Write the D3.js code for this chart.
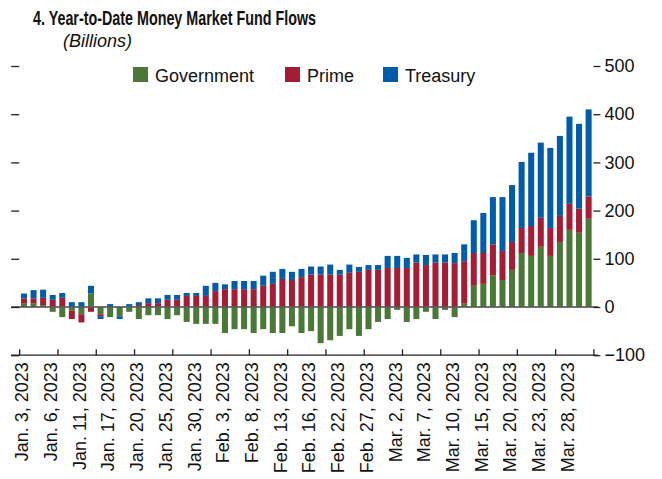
<!DOCTYPE html>
<html>
<head>
<meta charset="utf-8">
<script src="https://cdn.jsdelivr.net/npm/d3@7"></script>
<style>
  body { margin: 0; background: #fff; }
  svg { display: block; font-family: "Liberation Sans", Arial, sans-serif; }
</style>
</head>
<body>
<svg width="662" height="479"></svg>
<script>
// business days shown in the chart (one day missing around Feb. 1 in the source)
const dates = [
  '2023-01-03', '2023-01-04', '2023-01-05', '2023-01-06', '2023-01-09', '2023-01-10',
  '2023-01-11', '2023-01-12', '2023-01-13', '2023-01-17', '2023-01-18', '2023-01-19',
  '2023-01-20', '2023-01-23', '2023-01-24', '2023-01-25', '2023-01-26', '2023-01-27',
  '2023-01-30', '2023-01-31', '2023-02-02', '2023-02-03', '2023-02-06', '2023-02-07',
  '2023-02-08', '2023-02-09', '2023-02-10', '2023-02-13', '2023-02-14', '2023-02-15',
  '2023-02-16', '2023-02-17', '2023-02-21', '2023-02-22', '2023-02-23', '2023-02-24',
  '2023-02-27', '2023-02-28', '2023-03-01', '2023-03-02', '2023-03-03', '2023-03-06',
  '2023-03-07', '2023-03-08', '2023-03-09', '2023-03-10', '2023-03-13', '2023-03-14',
  '2023-03-15', '2023-03-16', '2023-03-17', '2023-03-20', '2023-03-21', '2023-03-22',
  '2023-03-23', '2023-03-24', '2023-03-27', '2023-03-28', '2023-03-29', '2023-03-30',
];

// billions of dollars, year to date
const government = [
  8, 8, 4, -10, -21, -8, -15, 28, -15, -21, -19, -10, -25, -17, -17, -25, -17, -31, -35, -35,
  -35, -54, -46, -46, -54, -46, -54, -54, -40, -54, -50, -75, -69, -60, -46, -60, -46, -31, -25, -6,
  -31, -25, -10, -25, -6, -21, 8, 44, 48, 66, 56, 77, 112, 106, 125, 106, 135, 160, 154, 183,
];
const prime = [
  10, 10, 15, 15, 19, -17, -17, -10, -4, 0, 0, 0, 4, 8, 8, 15, 15, 23, 23, 23,
  33, 37, 37, 37, 37, 44, 48, 58, 56, 62, 67, 67, 67, 67, 71, 73, 77, 77, 81, 81,
  81, 92, 87, 92, 92, 91, 87, 68, 64, 64, 60, 58, 52, 62, 60, 58, 54, 54, 50, 46,
];
const treasury = [
  10, 17, 17, 10, 10, 10, 10, 16, -6, 6, -6, 6, 6, 10, 10, 10, 10, 6, 6, 21,
  17, 10, 17, 17, 17, 21, 25, 21, 17, 17, 17, 17, 21, 10, 17, 10, 10, 10, 25, 25,
  21, 17, 21, 17, 17, 21, 35, 68, 83, 98, 112, 118, 137, 152, 156, 166, 166, 181, 176, 181,
];

const series = ['Government', 'Prime', 'Treasury'];
const colors = ['#4a7937', '#a51d34', '#005ca9'];
const yTicks = [-100, 0, 100, 200, 300, 400, 500];

const table = dates.map((d, i) => ({
  date: d, Government: government[i], Prime: prime[i], Treasury: treasury[i],
}));

const svg = d3.select('svg');
const monthNames = ['Jan.', 'Feb.', 'Mar.', 'Apr.', 'May', 'June', 'July', 'Aug.', 'Sep.', 'Oct.', 'Nov.', 'Dec.'];
function fmtDate(s) {
  const [yy, mm, dd] = s.split('-').map(Number);
  return `${monthNames[mm - 1]} ${dd}, ${yy}`;
}

const left = 19.2;
const right = 593.4;
const x = d3.scaleBand().domain(dates).range([left, right]).paddingInner(0.37).paddingOuter(0.185);
const xi = d3.scaleLinear().domain([0, dates.length]).range([left, right]);
const y = d3.scaleLinear().domain([-100, 500]).range([355.2, 66]);

const stacked = d3.stack().keys(series).offset(d3.stackOffsetDiverging)(table);

// bars
svg.append('g')
  .selectAll('g')
  .data(stacked)
  .join('g')
  .attr('fill', (d, i) => colors[i])
  .selectAll('rect')
  .data(d => d)
  .join('rect')
  .attr('x', d => x(d.data.date))
  .attr('width', x.bandwidth())
  .attr('y', d => y(Math.max(d[0], d[1])))
  .attr('height', d => Math.abs(y(d[0]) - y(d[1])));

// zero line
svg.append('line')
  .attr('x1', 11).attr('x2', 598)
  .attr('y1', y(0)).attr('y2', y(0))
  .attr('stroke', '#5a5a5a').attr('stroke-opacity', 0.85).attr('stroke-width', 2);

// left ticks (no labels)
svg.append('g')
  .attr('transform', `translate(${left},0)`)
  .call(d3.axisLeft(y).tickValues(yTicks).tickSize(8).tickFormat(''))
  .call(g => g.select('.domain').remove())
  .call(g => g.selectAll('line').attr('stroke', '#222').attr('stroke-width', 1.3));

// right axis
svg.append('g')
  .attr('transform', `translate(${right},0)`)
  .call(d3.axisRight(y).tickValues(yTicks).tickSize(7).tickPadding(4))
  .call(g => g.select('.domain').remove())
  .call(g => g.selectAll('line').attr('stroke', '#222').attr('stroke-width', 1.3))
  .call(g => g.selectAll('text').attr('font-size', 18).attr('fill', '#111')
    .attr('font-family', '"Liberation Sans", Arial, sans-serif'));

// x axis line and ticks every 4 days
svg.append('line')
  .attr('x1', 11).attr('x2', 598)
  .attr('y1', y(-100)).attr('y2', y(-100))
  .attr('stroke', '#222').attr('stroke-width', 1.3);

svg.append('g')
  .attr('transform', `translate(0,${y(-100)})`)
  .call(d3.axisBottom(xi).tickValues(d3.range(0, dates.length + 1, 4)).tickSize(-6).tickFormat(''))
  .call(g => g.select('.domain').remove())
  .call(g => g.selectAll('line').attr('stroke', '#222').attr('stroke-width', 1.3));

// date labels every 3 days
svg.append('g')
  .attr('transform', `translate(0,${y(-100)})`)
  .call(d3.axisBottom(x).tickValues(dates.filter((d, i) => i % 3 === 0)).tickSize(0).tickFormat(fmtDate))
  .call(g => g.select('.domain').remove())
  .call(g => g.selectAll('text')
    .attr('font-size', 18)
    .attr('fill', '#111')
    .attr('font-family', '"Liberation Sans", Arial, sans-serif')
    .attr('text-anchor', 'end')
    .attr('transform', 'rotate(-90)')
    .attr('x', -7)
    .attr('y', -2)
    .attr('dy', '0.35em'));

// title (condensed bold in the original)
svg.append('text')
  .attr('x', 33).attr('y', 25)
  .attr('font-family', '"Liberation Sans", Arial, sans-serif')
  .attr('font-weight', 'bold').attr('font-size', 19.5).attr('fill', '#111')
  .attr('textLength', 283).attr('lengthAdjust', 'spacingAndGlyphs')
  .text('4. Year-to-Date Money Market Fund Flows');

svg.append('text')
  .attr('x', 63).attr('y', 47)
  .attr('font-style', 'italic').attr('font-size', 18).attr('fill', '#111')
  .text('(Billions)');

// legend
const legendX = [133, 285, 383];
const legend = svg.append('g')
  .selectAll('g')
  .data(series)
  .join('g')
  .attr('transform', (d, i) => `translate(${legendX[i]},67)`);
legend.append('rect').attr('width', 15).attr('height', 15).attr('fill', (d, i) => colors[i]);
legend.append('text')
  .attr('x', 22).attr('y', 14.5)
  .attr('font-size', 18).attr('fill', '#111')
  .text(d => d);
</script>
</body>
</html>
